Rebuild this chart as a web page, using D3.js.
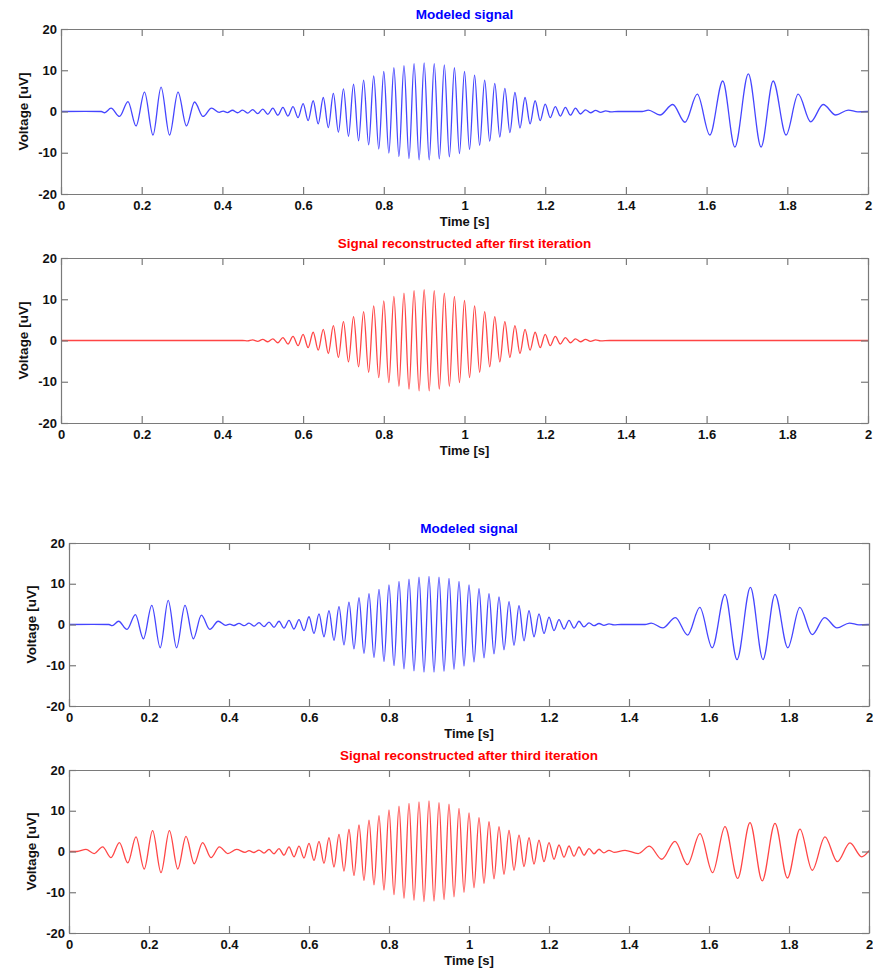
<!DOCTYPE html>
<html>
<head>
<meta charset="utf-8">
<script src="https://cdn.jsdelivr.net/npm/d3@7"></script>
<style>
  html, body { margin: 0; padding: 0; background: #ffffff; }
  svg { display: block; }
  text { font-family: "Liberation Sans", Arial, Helvetica, sans-serif; font-weight: bold; }
</style>
</head>
<body>
<svg id="chart" width="873" height="970"></svg>
<script>
// ---------------- DATA (extrema: [time s, voltage uV]) ----------------
const xTicks = [0, 0.2, 0.4, 0.6, 0.8, 1, 1.2, 1.4, 1.6, 1.8, 2];
const xTickLabels = ["0", "0.2", "0.4", "0.6", "0.8", "1", "1.2", "1.4", "1.6", "1.8", "2"];
const yTicks = [-20, -10, 0, 10, 20];
const yTickLabels = ["-20", "-10", "0", "10", "20"];

const titles = ["Modeled signal", "Signal reconstructed after first iteration",
                "Modeled signal", "Signal reconstructed after third iteration"];
const xLabel = "Time [s]";
const yLabel = "Voltage [uV]";

// Modeled signal: low-frequency burst near 0.25 s
const modeledLeft = [
  [0, 0], [0.06, 0.05], [0.1, 0], [0.108, -0.3], [0.124, 0.8], [0.145, -1.2], [0.166, 2.4],
  [0.186, -3.5], [0.207, 4.7], [0.228, -5.7], [0.248, 5.9], [0.269, -5.7], [0.290, 4.7],
  [0.311, -3.5], [0.331, 2.3], [0.352, -1.2], [0.373, 0.8], [0.392, -0.2], [0.402, 0.1]
];
// Modeled signal: 40 Hz burst centred on 0.9 s
const modeledCentral = [
  [0.4125, -0.25], [0.425, 0.3], [0.4375, -0.3], [0.45, 0.35], [0.4625, -0.4], [0.475, 0.45],
  [0.4875, -0.5], [0.5, 0.6], [0.5125, -0.7], [0.525, 0.8], [0.5375, -0.9], [0.55, 1.0],
  [0.5625, -1.1], [0.575, 1.2], [0.5875, -1.5], [0.6, 1.9], [0.6125, -2.2], [0.625, 2.6],
  [0.6375, -3.0], [0.65, 3.4], [0.6625, -3.9], [0.675, 4.4], [0.6875, -5.0], [0.7, 5.5],
  [0.7125, -6.0], [0.725, 6.6], [0.7375, -7.1], [0.75, 7.6], [0.7625, -8.1], [0.775, 8.6],
  [0.7875, -9.1], [0.8, 9.7], [0.8125, -10.1], [0.825, 10.6], [0.8375, -10.9], [0.85, 11.1],
  [0.8625, -11.4], [0.875, 11.6], [0.8875, -11.7], [0.9, 11.8], [0.9125, -11.7], [0.925, 11.6],
  [0.9375, -11.5], [0.95, 11.3], [0.9625, -11.0], [0.975, 10.6], [0.9875, -10.2], [1.0, 9.7],
  [1.0125, -9.2], [1.025, 8.8], [1.0375, -8.2], [1.05, 7.6], [1.0625, -7.2], [1.075, 6.8],
  [1.0875, -6.2], [1.1, 5.6], [1.1125, -5.1], [1.125, 4.6], [1.1375, -4.0], [1.15, 3.4],
  [1.1625, -3.0], [1.175, 2.6], [1.1875, -2.2], [1.2, 1.8], [1.2125, -1.5], [1.225, 1.2],
  [1.2375, -1.1], [1.25, 1.0], [1.2625, -0.9], [1.275, 0.8], [1.2875, -0.6], [1.3, 0.4],
  [1.3125, -0.3], [1.325, 0.25], [1.3375, -0.2], [1.35, 0.15], [1.3625, -0.1], [1.38, 0]
];
// Modeled signal: low-frequency burst near 1.7 s
const modeledRight = [
  [1.44, 0], [1.4556, 0.35], [1.4845, -0.85], [1.516, 1.7], [1.5465, -2.6], [1.577, 4.2],
  [1.608, -5.7], [1.640, 7.4], [1.670, -8.6], [1.7035, 9.1], [1.735, -8.6], [1.765, 7.4],
  [1.797, -5.7], [1.827, 4.2], [1.858, -2.5], [1.889, 1.7], [1.920, -0.85], [1.951, 0.35],
  [1.975, -0.1], [2.0, 0]
];

// Reconstruction after first iteration: only the central burst
const firstIteration = [
  [0, 0], [0.45, 0], [0.4625, -0.1], [0.475, 0.15], [0.4875, -0.2], [0.5, 0.25], [0.5125, -0.3],
  [0.525, 0.4], [0.5375, -0.55], [0.55, 0.7], [0.5625, -0.85], [0.575, 1.0], [0.5875, -1.25],
  [0.6, 1.5], [0.6125, -1.75], [0.625, 2.0], [0.6375, -2.35], [0.65, 2.7], [0.6625, -3.15],
  [0.675, 3.6], [0.6875, -4.1], [0.7, 4.6], [0.7125, -5.2], [0.725, 5.8], [0.7375, -6.4],
  [0.75, 7.0], [0.7625, -7.7], [0.775, 8.4], [0.7875, -9.0], [0.8, 9.6], [0.8125, -10.2],
  [0.825, 10.7], [0.8375, -11.1], [0.85, 11.5], [0.8625, -11.8], [0.875, 12.1], [0.8875, -12.2],
  [0.9, 12.3], [0.9125, -12.2], [0.925, 12.1], [0.9375, -11.8], [0.95, 11.5], [0.9625, -11.1],
  [0.975, 10.7], [0.9875, -10.2], [1.0, 9.7], [1.0125, -9.0], [1.025, 8.4], [1.0375, -7.7],
  [1.05, 7.0], [1.0625, -6.4], [1.075, 5.8], [1.0875, -5.2], [1.1, 4.6], [1.1125, -4.1],
  [1.125, 3.6], [1.1375, -3.15], [1.15, 2.7], [1.1625, -2.35], [1.175, 2.0], [1.1875, -1.75],
  [1.2, 1.5], [1.2125, -1.25], [1.225, 1.0], [1.2375, -0.85], [1.25, 0.7], [1.2625, -0.55],
  [1.275, 0.4], [1.2875, -0.3], [1.3, 0.25], [1.3125, -0.2], [1.325, 0.15], [1.3375, -0.1],
  [1.36, 0], [2.0, 0]
];

// Reconstruction after third iteration
const thirdLeft = [
  [0, 0], [0.02, 0], [0.0425, 0.5], [0.063, -0.5], [0.084, 1.15], [0.105, -1.5], [0.126, 2.2],
  [0.147, -2.8], [0.1675, 3.6], [0.188, -4.3], [0.209, 5.1], [0.230, -5.2], [0.251, 5.1],
  [0.272, -4.3], [0.2925, 3.7], [0.313, -3.0], [0.334, 2.2], [0.355, -1.5], [0.376, 1.15],
  [0.397, -0.5], [0.419, 0.5], [0.44, -0.2]
];
const thirdCentral = [
  [0.45, 0.2], [0.4625, -0.25], [0.475, 0.35], [0.4875, -0.4], [0.5, 0.5], [0.5125, -0.55],
  [0.525, 0.7], [0.5375, -0.9], [0.55, 1.15], [0.5625, -1.3], [0.575, 1.3], [0.5875, -1.6],
  [0.6, 2.0], [0.6125, -2.2], [0.625, 2.5], [0.6375, -2.9], [0.65, 3.4], [0.6625, -3.8],
  [0.675, 4.2], [0.6875, -4.8], [0.7, 5.4], [0.7125, -5.9], [0.725, 6.5], [0.7375, -7.1],
  [0.75, 7.7], [0.7625, -8.2], [0.775, 8.8], [0.7875, -9.5], [0.8, 10.2], [0.8125, -10.6],
  [0.825, 11.1], [0.8375, -11.5], [0.85, 11.8], [0.8625, -12.0], [0.875, 12.2], [0.8875, -12.3],
  [0.9, 12.4], [0.9125, -12.2], [0.925, 12.0], [0.9375, -11.8], [0.95, 11.6], [0.9625, -11.1],
  [0.975, 10.6], [0.9875, -10.0], [1.0, 9.5], [1.0125, -8.9], [1.025, 8.3], [1.0375, -7.8],
  [1.05, 7.3], [1.0625, -6.7], [1.075, 6.1], [1.0875, -5.6], [1.1, 5.2], [1.1125, -4.6],
  [1.125, 4.0], [1.1375, -3.7], [1.15, 3.4], [1.1625, -3.1], [1.175, 2.8], [1.1875, -2.5],
  [1.2, 2.2], [1.2125, -1.9], [1.225, 1.6], [1.2375, -1.4], [1.25, 1.35], [1.2625, -1.15],
  [1.275, 1.1], [1.2875, -0.9], [1.3, 0.7], [1.3125, -0.55], [1.325, 0.55], [1.3375, -0.35],
  [1.35, 0.3], [1.3625, -0.2]
];
const thirdRight = [
  [1.39, 0.3], [1.423, -0.5], [1.451, 1.3], [1.482, -1.9], [1.515, 2.5], [1.546, -3.2],
  [1.5775, 4.4], [1.609, -5.2], [1.64, 6.1], [1.6717, -6.6], [1.7025, 7.1], [1.733, -7.2],
  [1.765, 6.9], [1.796, -6.5], [1.8275, 5.5], [1.858, -4.6], [1.89, 3.6], [1.9208, -2.5],
  [1.9525, 2.1], [1.9817, -1.3], [2.0, 0.2]
];

const modeledSignal = modeledLeft.concat(modeledCentral, modeledRight);
const thirdIteration = thirdLeft.concat(thirdCentral, thirdRight);
const seriesList = [modeledSignal, firstIteration, modeledSignal, thirdIteration];
const seriesColors = ["#0000ff", "#ff0000", "#0000ff", "#ff0000"];
const lineColors = ["#2424ff", "#ff2424", "#2424ff", "#ff2424"];

// ---------------- LAYOUT ----------------
const panels = [
  { left: 61, right: 868, top: 29,  bottom: 194 },
  { left: 61, right: 868, top: 258, bottom: 423 },
  { left: 69, right: 869, top: 543, bottom: 706 },
  { left: 69, right: 869, top: 770, bottom: 933 }
];

const svg = d3.select("#chart");
const axisColor = "#7a7a7a";
const tickLen = 7;

panels.forEach((p, i) => {
  const x = d3.scaleLinear().domain([0, 2]).range([p.left, p.right]);
  const y = d3.scaleLinear().domain([-20, 20]).range([p.bottom, p.top]);
  const g = svg.append("g");

  const clipId = "clip" + i;
  svg.append("clipPath").attr("id", clipId)
    .append("rect").attr("x", p.left).attr("y", p.top)
    .attr("width", p.right - p.left).attr("height", p.bottom - p.top);

  const line = d3.line()
    .x(d => x(d[0])).y(d => y(d[1]))
    .curve(d3.curveMonotoneX);
  g.append("path")
    .datum(seriesList[i])
    .attr("clip-path", `url(#${clipId})`)
    .attr("fill", "none")
    .attr("stroke", lineColors[i])
    .attr("stroke-opacity", 0.85)
    .attr("stroke-width", 1.3)
    .attr("stroke-linejoin", "round")
    .attr("d", line);

  const bottomAxis = d3.axisBottom(x).tickValues(xTicks)
    .tickFormat((d, k) => xTickLabels[k]).tickSizeInner(-tickLen).tickSizeOuter(0).tickPadding(tickLen + 4);
  const gb = g.append("g").attr("transform", `translate(0,${p.bottom})`).call(bottomAxis);
  const topAxis = d3.axisTop(x).tickValues(xTicks).tickFormat("").tickSizeInner(-tickLen).tickSizeOuter(0);
  const gt = g.append("g").attr("transform", `translate(0,${p.top})`).call(topAxis);
  const leftAxis = d3.axisLeft(y).tickValues(yTicks)
    .tickFormat((d, k) => yTickLabels[k]).tickSizeInner(-tickLen).tickSizeOuter(0).tickPadding(tickLen + 4);
  const gl = g.append("g").attr("transform", `translate(${p.left},0)`).call(leftAxis);
  const rightAxis = d3.axisRight(y).tickValues(yTicks).tickFormat("").tickSizeInner(-tickLen).tickSizeOuter(0);
  const gr = g.append("g").attr("transform", `translate(${p.right},0)`).call(rightAxis);

  [gb, gt, gl, gr].forEach(a => {
    a.select(".domain").attr("stroke", axisColor).attr("stroke-width", 1.2);
    a.selectAll(".tick line").attr("stroke", axisColor).attr("stroke-width", 1.2);
    a.selectAll(".tick text").attr("fill", "#111").style("font-size", "13px")
      .style("font-family", '"Liberation Sans", Arial, sans-serif').style("font-weight", "bold");
  });
  gb.selectAll(".tick text").attr("dy", "0.35em").attr("y", 11);
  gl.selectAll(".tick text").attr("x", -4);

  const cx = (p.left + p.right) / 2;
  g.append("text")
    .attr("x", cx).attr("y", p.top - 15).attr("dy", "0.35em")
    .attr("text-anchor", "middle")
    .attr("fill", seriesColors[i])
    .style("font-size", "13.5px")
    .text(titles[i]);
  g.append("text")
    .attr("x", cx).attr("y", p.bottom + 27).attr("dy", "0.35em")
    .attr("text-anchor", "middle").attr("fill", "#111")
    .style("font-size", "13px")
    .text(xLabel);
  g.append("text")
    .attr("transform", `translate(${p.left - 38},${(p.top + p.bottom) / 2}) rotate(-90)`)
    .attr("dy", "0.35em")
    .attr("text-anchor", "middle").attr("fill", "#111")
    .style("font-size", "13.5px")
    .text(yLabel);
});
</script>
</body>
</html>
